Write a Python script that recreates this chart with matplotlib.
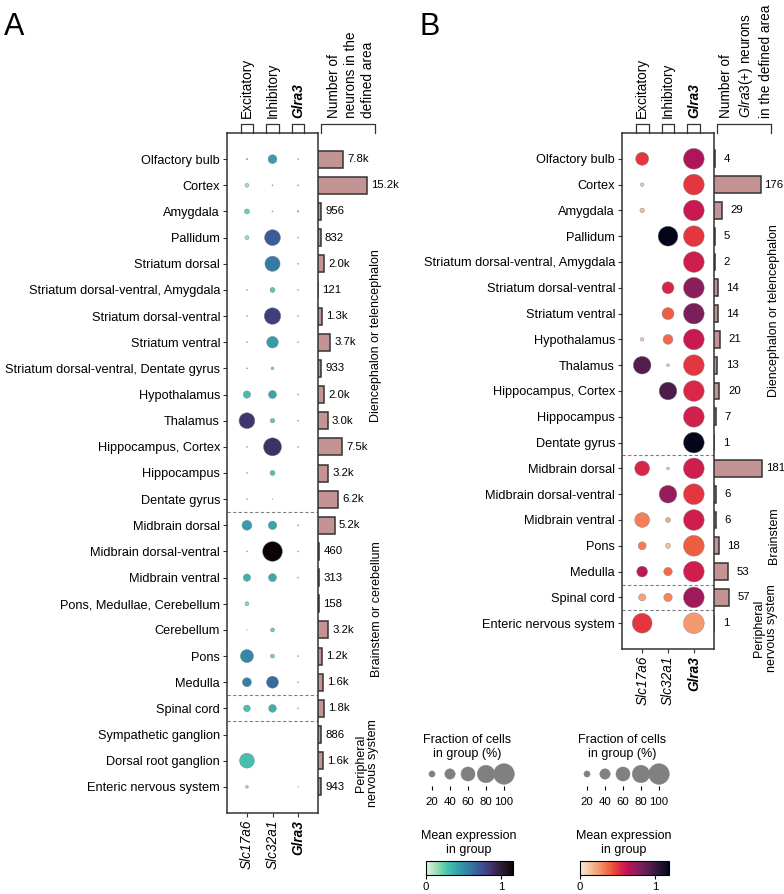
import numpy as np
import matplotlib
matplotlib.use("Agg")
import matplotlib.pyplot as plt
import matplotlib.transforms as mtransforms
from matplotlib.colors import Normalize
import matplotlib.colorbar as mcolorbar
import seaborn as sns

plt.rcParams['font.family'] = ['Liberation Sans', 'DejaVu Sans']
plt.rcParams['mathtext.fontset'] = 'custom'
plt.rcParams['mathtext.rm'] = 'Liberation Sans'
plt.rcParams['mathtext.it'] = 'Liberation Sans:italic'
plt.rcParams['font.size'] = 9.2

# ---------------- data: panel A ----------------
regions_a = ["Olfactory bulb", "Cortex", "Amygdala", "Pallidum", "Striatum dorsal",
             "Striatum dorsal-ventral, Amygdala", "Striatum dorsal-ventral", "Striatum ventral",
             "Striatum dorsal-ventral, Dentate gyrus", "Hypothalamus", "Thalamus",
             "Hippocampus, Cortex", "Hippocampus", "Dentate gyrus", "Midbrain dorsal",
             "Midbrain dorsal-ventral", "Midbrain ventral", "Pons, Medullae, Cerebellum",
             "Cerebellum", "Pons", "Medulla", "Spinal cord", "Sympathetic ganglion",
             "Dorsal root ganglion", "Enteric nervous system"]
# fraction of cells expressing (%) per gene
frac_a_slc17a6 = [3, 11, 15, 11, 0, 2, 2, 2, 2, 25, 70, 2, 2, 2, 37, 2, 25, 11, 1, 54, 33, 22, 0, 64, 7]
frac_a_slc32a1 = [32, 2, 2, 70, 66, 15, 74, 46, 7, 28, 13, 83, 15, 1, 30, 94, 28, 0, 11, 11, 48, 27, 0, 0, 0]
frac_a_glra3 = [2, 2, 3, 2, 2, 2, 2, 2, 0, 2, 2, 2, 0, 0, 2, 2, 2, 0, 0, 2, 2, 2, 0, 0, 1]
# mean expression in group
expr_a_slc17a6 = [0.15, 0.12, 0.22, 0.14, 0.0, 0.1, 0.1, 0.1, 0.1, 0.31, 0.86, 0.1, 0.1, 0.1, 0.44, 0.1, 0.35, 0.17, 0.1, 0.53, 0.56, 0.29, 0.0, 0.30, 0.15]
expr_a_slc32a1 = [0.43, 0.1, 0.1, 0.70, 0.58, 0.25, 0.82, 0.44, 0.2, 0.41, 0.25, 0.88, 0.28, 0.1, 0.40, 1.16, 0.39, 0.0, 0.22, 0.2, 0.64, 0.36, 0.0, 0.0, 0.0]
expr_a_glra3 = [0.1, 0.1, 0.3, 0.1, 0.1, 0.1, 0.1, 0.1, 0.0, 0.1, 0.1, 0.1, 0.0, 0.0, 0.1, 0.1, 0.1, 0.0, 0.0, 0.1, 0.1, 0.1, 0.0, 0.0, 0.1]
counts_a = [7800, 15200, 956, 832, 2000, 121, 1300, 3700, 933, 2000, 3000, 7500, 3200, 6200,
            5200, 460, 313, 158, 3200, 1200, 1600, 1800, 886, 1600, 943]
separators_a = [13.5, 20.5, 21.5]
groups_a = ["Diencephalon or telencephalon", "Brainstem or cerebellum", "Peripheral\nnervous system"]
group_rows_a = [6.75, 17.2, 23.1]
vmax_a = 1.16

# ---------------- data: panel B ----------------
regions_b = ["Olfactory bulb", "Cortex", "Amygdala", "Pallidum", "Striatum dorsal-ventral, Amygdala",
             "Striatum dorsal-ventral", "Striatum ventral", "Hypothalamus", "Thalamus",
             "Hippocampus, Cortex", "Hippocampus", "Dentate gyrus", "Midbrain dorsal",
             "Midbrain dorsal-ventral", "Midbrain ventral", "Pons", "Medulla", "Spinal cord",
             "Enteric nervous system"]
frac_b_slc17a6 = [54, 9, 13, 0, 0, 0, 0, 9, 81, 0, 0, 0, 64, 0, 64, 28, 42, 24, 94]
frac_b_slc32a1 = [0, 0, 0, 94, 0, 48, 48, 37, 7, 81, 0, 0, 7, 81, 15, 15, 30, 30, 0]
frac_b_glra3 = [100] * 19
expr_b_slc17a6 = [0.50, 0.12, 0.15, 0.0, 0.0, 0.0, 0.0, 0.12, 0.93, 0.0, 0.0, 0.0, 0.55, 0.0, 0.32, 0.33, 0.64, 0.22, 0.50]
expr_b_slc32a1 = [0.0, 0.0, 0.0, 1.19, 0.0, 0.55, 0.40, 0.38, 0.12, 0.95, 0.0, 0.0, 0.12, 0.74, 0.20, 0.14, 0.37, 0.30, 0.0]
expr_b_glra3 = [0.68, 0.50, 0.60, 0.50, 0.58, 0.78, 0.82, 0.60, 0.50, 0.54, 0.57, 1.19, 0.58, 0.50, 0.58, 0.40, 0.58, 0.72, 0.25]
counts_b = [4, 176, 29, 5, 2, 14, 14, 21, 13, 20, 7, 1, 181, 6, 6, 18, 53, 57, 1]
separators_b = [11.5, 16.5, 17.5]
groups_b = ["Diencephalon or telencephalon", "Brainstem", "Peripheral\nnervous system"]
group_rows_b = [5.9, 14.6, 18.2]
vmax_b = 1.19

genes = ["Slc17a6", "Slc32a1", "Glra3"]
cell_types = ["Excitatory", "Inhibitory", "Glra3"]
legend_fracs = [20, 40, 60, 80, 100]

W, H = 784, 894
SMAX = 222
BAR_COLOR = "#c49393"
FS_SMALL = 8.2
FS_HEAD = 9.8
FS_GROUP = 9.0


def box(l, t, r, b):
    return [l / W, 1 - b / H, (r - l) / W, (b - t) / H]


def dot_size(f):
    return SMAX * (np.asarray(f, dtype=float) / 100.0) ** 1.5


def fmt_count(c):
    return f"{c / 1000:.1f}k" if c >= 1000 else str(c)


def draw_panel(fig, dot_rect, bar_rect, regions, fracs, exprs, counts, cmap, vmax,
               separators, groups, group_rows, group_x, bar_xmax, bar_title, label_pad, title_x):
    n = len(regions)
    ax = fig.add_axes(box(*dot_rect))
    for j, (f, e) in enumerate(zip(fracs, exprs)):
        ax.scatter(np.full(n, j), np.arange(n), s=dot_size(f), c=e, cmap=cmap,
                   vmin=0, vmax=vmax, edgecolors="gray", linewidths=0.3, zorder=3)
    for s in separators:
        ax.axhline(s, color="gray", ls="--", lw=0.8, dashes=(3, 2))
    ax.set_ylim(n, -1)
    ax.set_xlim(-0.78, 2.78)
    ax.set_yticks(np.arange(n))
    ax.set_yticklabels(regions)
    ax.set_xticks(range(3))
    ax.set_xticklabels(genes, rotation=90, style="italic", fontsize=FS_HEAD)
    ax.get_xticklabels()[2].set_fontweight("bold")
    ax.tick_params(length=3, width=0.8, color="#333333", pad=2)
    for sp in ax.spines.values():
        sp.set_color("#333333")
        sp.set_linewidth(1.1)

    h_px = dot_rect[3] - dot_rect[1]
    tr = mtransforms.blended_transform_factory(ax.transData, ax.transAxes)
    y0, y1 = 1.0, 1.0 + 9.0 / h_px
    for j, name in enumerate(cell_types):
        ax.plot([j - 0.25, j - 0.25, j + 0.25, j + 0.25], [y0, y1, y1, y0], color="#333333",
                lw=0.9, transform=tr, clip_on=False)
        kw = dict(style="italic", weight="bold") if name == "Glra3" else {}
        ax.text(j, 1.0 + 15.0 / h_px, name, transform=tr, rotation=90, ha="center",
                va="bottom", fontsize=FS_HEAD, **kw)

    bx = fig.add_axes(box(*bar_rect))
    bx.barh(np.arange(n), counts, height=0.65, color=BAR_COLOR, edgecolor="#333333", lw=1.1)
    for i, c in enumerate(counts):
        pad = label_pad[0] if c < 100 or c >= 1000 else label_pad[1]
        bx.annotate(fmt_count(c), (c, i), xytext=(pad, 0), textcoords="offset points",
                    ha="left", va="center", fontsize=FS_SMALL, annotation_clip=False)
    bx.set_ylim(n, -1)
    bx.set_xlim(0, bar_xmax)
    bx.axis("off")
    bw = bar_rect[2] - bar_rect[0]
    bx.plot([3.0 / bw, 3.0 / bw, 1.0, 1.0], [y0, y1, y1, y0], color="#333333", lw=0.9,
            transform=bx.transAxes, clip_on=False)
    bx.text(title_x, 1.0 + 15.0 / h_px, bar_title, transform=bx.transAxes, rotation=90,
            ha="center", va="bottom", multialignment="left", linespacing=1.3, fontsize=FS_HEAD)
    gtr = mtransforms.blended_transform_factory(bx.transAxes, bx.transData)
    for g, r, gx in zip(groups, group_rows, group_x):
        bx.text(gx, r, g, transform=gtr, rotation=90, ha="center", va="center",
                multialignment="center", linespacing=1.1, fontsize=FS_GROUP)
    return ax


def size_legend(fig, rect, title_x):
    lx = fig.add_axes(box(*rect))
    pos = np.arange(len(legend_fracs))
    lx.scatter(pos, np.zeros(len(pos)), s=dot_size(legend_fracs), color="#808080",
               edgecolors="gray", linewidths=0.3)
    lx.set_xlim(-0.667, 4.667)
    lx.set_ylim(-1, 1)
    lx.set_xticks(pos)
    lx.set_xticklabels([str(f) for f in legend_fracs], fontsize=FS_SMALL)
    lx.set_yticks([])
    lx.tick_params(axis="x", length=3, width=0.8, pad=5)
    for sp in lx.spines.values():
        sp.set_visible(False)
    fig.text(title_x / W, 1 - 747 / H, "Fraction of cells\nin group (%)", ha="center",
             va="center", multialignment="center", linespacing=1.15, fontsize=FS_GROUP)


def color_legend(fig, rect, cmap, vmax, title_x):
    cx = fig.add_axes(box(*rect))
    cb = mcolorbar.ColorbarBase(cx, cmap=cmap, norm=Normalize(0, vmax), orientation="horizontal")
    cb.set_ticks([0, 1])
    cb.outline.set_linewidth(0.8)
    cx.tick_params(length=3, width=0.8, pad=2, labelsize=FS_SMALL)
    fig.text(title_x / W, 1 - 843 / H, "Mean expression\nin group", ha="center", va="center",
             multialignment="center", linespacing=1.15, fontsize=FS_GROUP)


fig = plt.figure(figsize=(W / 100, H / 100), dpi=100)
mako = sns.color_palette("mako_r", as_cmap=True)
rocket = sns.color_palette("rocket_r", as_cmap=True)

draw_panel(fig, (227, 133, 318, 813), (318, 133, 375, 813), regions_a,
           [frac_a_slc17a6, frac_a_slc32a1, frac_a_glra3],
           [expr_a_slc17a6, expr_a_slc32a1, expr_a_glra3], counts_a, mako, vmax_a,
           separators_a, groups_a, group_rows_a, [1.01, 1.03, 0.86], 15200 * 57 / 49,
           "Number of\nneurons in the\ndefined area", (3, 3), 0.58)
draw_panel(fig, (622, 133, 714, 649), (714, 133, 771, 649), regions_b,
           [frac_b_slc17a6, frac_b_slc32a1, frac_b_glra3],
           [expr_b_slc17a6, expr_b_slc32a1, expr_b_glra3], counts_b, rocket, vmax_b,
           separators_b, groups_b, group_rows_b, [1.05, 1.05, 0.9], 181 * 57 / 48,
           "Number of\n$\\it{Glra3}$(+) neurons\nin the defined area", (6.2, 2.8), 0.56)

size_legend(fig, (420, 762, 516, 786), 467)
size_legend(fig, (575, 762, 671, 786), 622)
color_legend(fig, (426, 861, 513, 875), mako, vmax_a, 469)
color_legend(fig, (580, 861, 669, 875), rocket, vmax_b, 624)

fig.text(4 / W, 1 - 27 / H, "A", fontsize=22, va="center", ha="left")
fig.text(419 / W, 1 - 27 / H, "B", fontsize=22, va="center", ha="left")

fig.savefig("out.png", dpi=100)
